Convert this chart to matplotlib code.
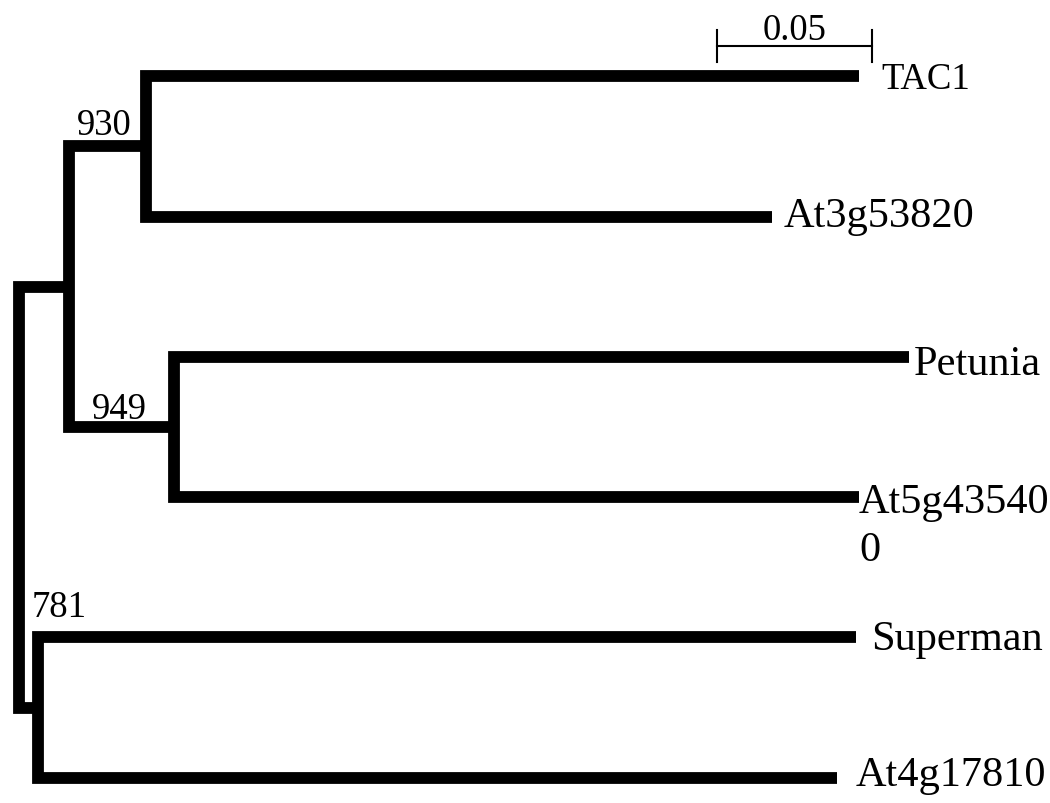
import matplotlib
matplotlib.use('Agg')
import matplotlib.pyplot as plt

plt.rcParams['font.family'] = ['Liberation Serif', 'DejaVu Serif']

# tree data: internal nodes, their parents and branch lengths
node_names = ['root', 'A', 'n930', 'n949', 'n781']
node_parent = [None, 'root', 'A', 'A', 'root']
node_branch = [0.0, 0.016, 0.025, 0.034, 0.006]
node_support = ['', '', '930', '949', '781']

# leaves, top to bottom
leaf_names = ['TAC1', 'At3g53820', 'Petunia', 'At5g43540\n0', 'Superman', 'At4g17810']
leaf_parent = ['n930', 'n930', 'n949', 'n949', 'n781', 'n781']
leaf_branch = [0.230, 0.202, 0.237, 0.221, 0.264, 0.258]

scale_len = 0.05
scale_label = '0.05'

# layout nudges (pixels: right, down) for labels
P = 72 / 100
leaf_nudge = [(22, 12), (11, 9), (5, 17), (0, 63), (15, 12), (18, 7)]
leaf_size = [26.5, 30.5, 30.5, 30.5, 30.5, 30.5]

# depth of every node
depth = {}
def get_depth(n):
    if n not in depth:
        i = node_names.index(n)
        p = node_parent[i]
        depth[n] = 0.0 if p is None else get_depth(p) + node_branch[i]
    return depth[n]
for n in node_names:
    get_depth(n)

leaf_x = [depth[p] + b for p, b in zip(leaf_parent, leaf_branch)]
leaf_y = list(range(len(leaf_names)))

# children (end points) of every internal node
children = {n: [] for n in node_names}
for x, y, p in zip(leaf_x, leaf_y, leaf_parent):
    children[p].append((x, y))
node_y = {}
def get_y(n):
    if n in node_y:
        return node_y[n]
    pts = list(children[n])
    for c, p in zip(node_names, node_parent):
        if p == n:
            pts.append((depth[c], get_y(c)))
    pts.sort(key=lambda t: t[1])
    children[n] = pts
    node_y[n] = (pts[0][1] + pts[-1][1]) / 2
    return node_y[n]
get_y('root')

fig = plt.figure(figsize=(10.5, 8.04), dpi=100)
ax = fig.add_axes([0, 0, 1, 1])
ax.set_xlim(-19 / 3100, 1031 / 3100)
ax.set_ylim((804 - 77.2) / 140.3, -77.2 / 140.3)
ax.axis('off')

lw = 8.5
for n in node_names:
    pts = children[n]
    xn = depth[n]
    (x1, y1), (x2, y2) = pts[0], pts[-1]
    ax.plot([x1, xn, xn, x2], [y1, y1, y2, y2], color='black', lw=lw,
            solid_joinstyle='miter', solid_capstyle='butt')

for name, x, y, (dx, dy), fs in zip(leaf_names, leaf_x, leaf_y, leaf_nudge, leaf_size):
    ax.annotate(name, (x, y), xytext=(dx * P, -dy * P), textcoords='offset points',
                ha='left', va='baseline', fontsize=fs, linespacing=1.32)

# bootstrap values
ax.annotate('930', (depth['n930'], node_y['n930']), xytext=(-14 * P, 12 * P),
            textcoords='offset points', ha='right', va='baseline', fontsize=26.5)
ax.annotate('949', (depth['n949'], node_y['n949']), xytext=(-27 * P, 9 * P),
            textcoords='offset points', ha='right', va='baseline', fontsize=26.5)
ax.annotate('781', (depth['n781'], leaf_y[4]), xytext=(-6 * P, 21 * P),
            textcoords='offset points', ha='left', va='baseline', fontsize=26.5)

# scale bar
sx0 = 698 / 3100
sy = (47 - 77.2) / 140.3
th = 16 / 140.3
ax.plot([sx0, sx0 + scale_len], [sy, sy], color='black', lw=1.5)
ax.plot([sx0, sx0], [sy - th, sy + th], color='black', lw=1.5)
ax.plot([sx0 + scale_len, sx0 + scale_len], [sy - th, sy + th], color='black', lw=1.5)
ax.annotate(scale_label, (sx0 + scale_len / 2, sy), xytext=(0, 7 * P),
            textcoords='offset points', ha='center', va='baseline', fontsize=26.5)

fig.savefig('out.png', dpi=100)
